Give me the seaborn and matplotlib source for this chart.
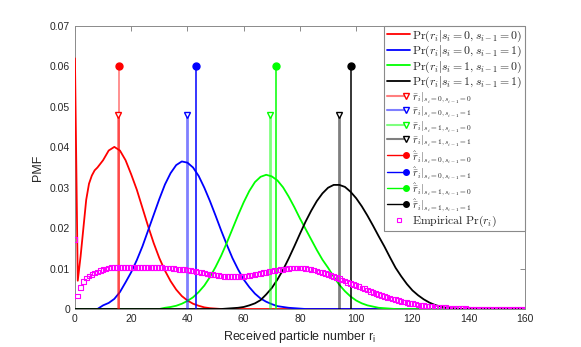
import numpy as np
import pandas as pd
import matplotlib
matplotlib.use("Agg")
import matplotlib.pyplot as plt
import seaborn as sns
from matplotlib.lines import Line2D
from matplotlib.legend_handler import HandlerLine2D

sns.set_style("white")
plt.rcParams['font.family'] = ['Liberation Sans', 'DejaVu Sans']
plt.rcParams['mathtext.fontset'] = 'cm'

# received particle number grid for the PMF curves
r_grid = list(range(0, 9)) + list(range(10, 161, 2))

pmf_00 = [0.062, 0.007, 0.013, 0.020, 0.027, 0.031, 0.033, 0.0343, 0.0350,
          0.0368, 0.0392, 0.0401, 0.0392, 0.0368, 0.0333, 0.0295, 0.0250, 0.0205, 0.0163,
          0.0126, 0.0095, 0.0069, 0.0048, 0.0032, 0.0021, 0.0013, 0.0008, 0.0004, 0.0002,
          0.0001] + [0.0] * 55
pmf_01 = [0.0] * 9 + [
          0.0009, 0.0015, 0.0025, 0.0042, 0.0066, 0.0091, 0.0121, 0.0155, 0.0194, 0.0233,
          0.0272, 0.0308, 0.0336, 0.0356, 0.0365, 0.0362, 0.0350, 0.0329, 0.0300, 0.0267,
          0.0231, 0.0194, 0.0159, 0.0126, 0.0098, 0.0073, 0.0054, 0.0038, 0.0026, 0.0018,
          0.0012, 0.0007, 0.0005, 0.0003, 0.0002, 0.0001] + [0.0] * 40
pmf_10 = [0.0] * 20 + [
          0.0003, 0.0005, 0.0008, 0.0013, 0.0020, 0.0029, 0.0042, 0.0058, 0.0079, 0.0104,
          0.0132, 0.0164, 0.0198, 0.0232, 0.0264, 0.0292, 0.0314, 0.0327, 0.0332, 0.0328,
          0.0318, 0.0301, 0.0278, 0.0252, 0.0224, 0.0198, 0.0172, 0.0146, 0.0122, 0.0102,
          0.0080, 0.0060, 0.0044, 0.0031, 0.0021, 0.0014, 0.0009, 0.0006, 0.0003, 0.0002,
          0.0001] + [0.0] * 24
pmf_11 = [0.0] * 31 + [
          0.0001, 0.0002, 0.0003, 0.0005, 0.0009, 0.0014, 0.0022, 0.0036, 0.0052, 0.0073,
          0.0097, 0.0125, 0.0155, 0.0186, 0.0216, 0.0243, 0.0267, 0.0286, 0.0300, 0.0307,
          0.0307, 0.0302, 0.0290, 0.0274, 0.0254, 0.0231, 0.0206, 0.0180, 0.0155, 0.0128,
          0.0102, 0.0081, 0.0062, 0.0046, 0.0034, 0.0024, 0.0016, 0.0010, 0.0006, 0.0003,
          0.0002, 0.0001] + [0.0] * 12

# empirical PMF, one value per r = 0..160
r_emp = list(range(0, 161))
pmf_emp = [
    0.0172, 0.0032, 0.0053, 0.0068, 0.0077, 0.0082, 0.0086, 0.0089, 0.0092, 0.0095,
    0.0097, 0.0099, 0.0101, 0.0102, 0.0102, 0.0102, 0.0102, 0.0102, 0.0102, 0.0102,
    0.0102, 0.0102, 0.0102, 0.0103, 0.0103, 0.0103, 0.0103, 0.0103, 0.0103, 0.0102,
    0.0102, 0.0102, 0.0101, 0.0101, 0.0101, 0.0100, 0.0099, 0.0098, 0.0097, 0.0097,
    0.0096, 0.0095, 0.0094, 0.0093, 0.0092, 0.0090, 0.0089, 0.0087, 0.0086, 0.0085,
    0.0084, 0.0083, 0.0082, 0.0081, 0.0081, 0.0080, 0.0080, 0.0080, 0.0080, 0.0081,
    0.0081, 0.0082, 0.0083, 0.0084, 0.0085, 0.0087, 0.0088, 0.0090, 0.0091, 0.0093,
    0.0094, 0.0095, 0.0096, 0.0097, 0.0098, 0.0099, 0.0100, 0.0101, 0.0101, 0.0101,
    0.0101, 0.0101, 0.0100, 0.0099, 0.0098, 0.0096, 0.0094, 0.0092, 0.0090, 0.0088,
    0.0086, 0.0083, 0.0080, 0.0078, 0.0075, 0.0072, 0.0069, 0.0066, 0.0063, 0.0061,
    0.0058, 0.0055, 0.0052, 0.0050, 0.0047, 0.0044, 0.0041, 0.0039, 0.0036, 0.0034,
    0.0031, 0.0029, 0.0027, 0.0025, 0.0023, 0.0021, 0.0019, 0.0017, 0.0016, 0.0014,
    0.0013, 0.0012, 0.0010, 0.0009, 0.0008, 0.0007, 0.0006, 0.0006, 0.0005, 0.0004,
    0.0004, 0.0003, 0.0003, 0.0002, 0.0002, 0.0002, 0.0001, 0.0001, 0.0001, 0.0001,
    0.0, 0.0, 0.0, 0.0, 0.0, 0.0, 0.0, 0.0, 0.0, 0.0,
    0.0, 0.0, 0.0, 0.0, 0.0, 0.0, 0.0, 0.0, 0.0, 0.0, 0.0]

# mean (bar) and estimated (hat) particle numbers
cond_keys = ['00', '01', '10', '11']
cond_sub = ['s_i=0,s_{i-1}=0', 's_i=0,s_{i-1}=1', 's_i=1,s_{i-1}=0', 's_i=1,s_{i-1}=1']
cond_txt = ['s_i = 0, s_{i-1} = 0', 's_i = 0, s_{i-1} = 1',
            's_i = 1, s_{i-1} = 0', 's_i = 1, s_{i-1} = 1']
rbar_pos = [15.2, 39.7, 69.3, 94.0]
rbar_val = [0.048, 0.048, 0.048, 0.048]
rhat_pos = [15.7, 42.9, 71.6, 98.1]
rhat_val = [0.060, 0.060, 0.060, 0.060]

colors = {'00': (1, 0, 0), '01': (0, 0, 1), '10': (0, 1, 0), '11': (0, 0, 0)}

df = pd.concat([
    pd.DataFrame({'r': r_grid, 'pmf': vals, 'cond': key})
    for key, vals in zip(cond_keys, [pmf_00, pmf_01, pmf_10, pmf_11])
])
emp = pd.DataFrame({'r': r_emp, 'pmf': pmf_emp})

fig = plt.figure(figsize=(5.81, 3.47), dpi=100)
ax = fig.add_axes([0.129, 0.1095, 0.7745, 0.8155])

sns.lineplot(data=df, x='r', y='pmf', hue='cond', palette=colors, lw=1.3,
             legend=False, ax=ax, zorder=3)

# stems for r-bar (light) and r-hat (solid)
for i, key in enumerate(cond_keys):
    c = colors[key]
    ax.vlines(rbar_pos[i], 0, rbar_val[i], colors=[c + (0.5,)], lw=2.0, zorder=4)
    ax.plot(rbar_pos[i], rbar_val[i], marker='v', ms=5, mfc='white', mec=c,
            mew=1.0, ls='none', zorder=6)
    hat_alpha = 0.55 if key == '00' else 1.0
    ax.vlines(rhat_pos[i], 0, rhat_val[i], colors=[c + (hat_alpha,)], lw=1.1, zorder=5)
    ax.plot(rhat_pos[i], rhat_val[i], marker='o', ms=5, color=c, ls='none', zorder=6)

sns.scatterplot(data=emp, x='r', y='pmf', marker='s', s=11, facecolor='none',
                edgecolor='magenta', linewidth=0.8, ax=ax, zorder=7)

ax.set_xlim(0, 160)
ax.set_ylim(0, 0.07)
ax.set_xticks(range(0, 161, 20))
ax.set_yticks([0, 0.01, 0.02, 0.03, 0.04, 0.05, 0.06, 0.07])
ax.set_yticklabels(['0', '0.01', '0.02', '0.03', '0.04', '0.05', '0.06', '0.07'])
ax.tick_params(direction='in', length=3.5, width=0.6, colors='#777777',
               labelcolor='#262626', labelsize=7.5, top=True, right=True)
for sp in ax.spines.values():
    sp.set_color('#8a8a8a')
    sp.set_linewidth(0.7)
ax.set_xlabel(r'Received particle number r$_{\mathregular{i}}$', fontsize=9, color='#262626')
ax.set_ylabel('PMF', fontsize=9, color='#262626')


class HandlerStem(HandlerLine2D):
    # MATLAB-style stem legend entry: line with the marker at its right end
    def create_artists(self, legend, orig_handle, xdescent, ydescent, width,
                       height, fontsize, trans):
        arts = super().create_artists(legend, orig_handle, xdescent, ydescent,
                                      width, height, fontsize, trans)
        line = arts[0]
        xd = np.asarray(line.get_xdata(), dtype=float).copy()
        xd[-1] -= 0.35 * fontsize
        line.set_xdata(xd)
        line.set_markevery([len(xd) - 1])
        return arts


handles, labels, hmap = [], [], {}
for i, key in enumerate(cond_keys):
    handles.append(Line2D([], [], color=colors[key], lw=1.3))
    labels.append(r'$\mathrm{Pr}(r_i|%s)$' % cond_txt[i])
for i, key in enumerate(cond_keys):
    h = Line2D([], [], color=colors[key] + (0.5,), lw=1.5, marker='v', ms=4.0,
               mfc='white', mec=colors[key])
    handles.append(h)
    hmap[h] = HandlerStem()
    labels.append(r'$\bar{r}_i|_{%s}$' % cond_sub[i])
for i, key in enumerate(cond_keys):
    h = Line2D([], [], color=colors[key], lw=1.0, marker='o', ms=4.0)
    handles.append(h)
    hmap[h] = HandlerStem()
    labels.append(r'$\hat{\bar{r}}_i|_{%s}$' % cond_sub[i])
handles.append(Line2D([], [], ls='none', marker='s', ms=3.5, mfc='none',
                      mec='magenta', mew=0.8))
labels.append(r'$\mathrm{Empirical\ Pr}(r_i)$')

leg = ax.legend(handles, labels, handler_map=hmap, loc='upper right',
                borderaxespad=0, fontsize=8.5, handlelength=2.0,
                handletextpad=0.15, labelspacing=0.02, borderpad=0.2,
                fancybox=False, framealpha=1, edgecolor='#8a8a8a', numpoints=1)
for t in leg.get_texts()[4:12]:
    t.set_fontsize(7.5)
leg.get_frame().set_linewidth(0.8)
leg.set_zorder(10)

fig.savefig('out.png', dpi=100)
